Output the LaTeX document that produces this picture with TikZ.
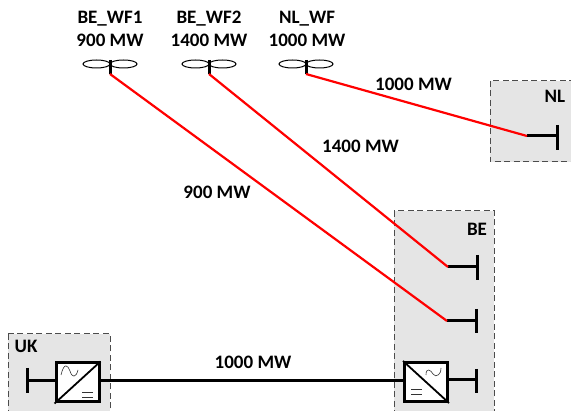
\documentclass[tikz,border=0pt]{standalone}
\usepackage{fontspec}
\setmainfont{Carlito}
\usetikzlibrary{positioning,calc}
\tikzset{
  zone/.style={draw=black!70,dash pattern=on 6pt off 3.5pt,fill=black!10,line width=1pt},
  label/.style={font=\bfseries\fontsize{19}{22.5}\selectfont,inner sep=0pt,align=center},
  feeder/.style={draw=red,line width=2.2pt},
  link/.style={draw=black,line width=3pt},
  busbar/.style={draw=black,line width=3pt},
  conv/.style={draw=black,fill=white,line width=3pt,minimum width=43pt,minimum height=39pt,inner sep=0pt},
  blade/.style={draw=black,line width=1pt},
}
\begin{document}
\begin{tikzpicture}[x=1pt,y=-1pt]
  \clip (0,0) rectangle (571,411);
  \draw[zone] (490,81) rectangle (575,162); % NL
  \draw[zone] (394,211) rectangle (494,420); % BE
  \draw[zone] (8,334) rectangle (110,420); % UK
  \node[label] (nameNL) at (555,96) {NL};
  \node[label] (nameBE) at (477,229) {BE};
  \node[label] (nameUK) at (26,346) {UK};
  % wind farms
  \foreach \name/\xx in {wfA/110,wfB/209,wfC/306}{
    \draw[blade] (\xx-13.5,64) ellipse (13.5 and 4);
    \draw[blade] (\xx+13.5,64) ellipse (13.5 and 4);
    \coordinate (\name) at (\xx,74);
    \draw[busbar] (\xx,60) -- (\name);
  }
  \node[label] (textA) at (110,29) {BE\_WF1\\900 MW};
  \node[label] (textB) at (209,29) {BE\_WF2\\1400 MW};
  \node[label] (textC) at (307,29) {NL\_WF\\1000 MW};
  % busbars
  \coordinate (busNL) at (527,136);
  \coordinate (busNLend) at (557,136);
  \coordinate (busA) at (448,267);
  \coordinate (busAend) at (477,267);
  \coordinate (busB) at (447,321);
  \coordinate (busBend) at (476,321);
  \draw[busbar] (busNL) -- (busNLend);
  \draw[busbar] (557,125) -- (557,150);
  \draw[busbar] (busA) -- (busAend);
  \draw[busbar] (477,255) -- (477,280);
  \draw[busbar] (busB) -- (busBend);
  \draw[busbar] (476,309) -- (476,333);
  % feeders
  \draw[feeder] (wfA) -- (busB);
  \draw[feeder] (wfB) -- (busA);
  \draw[feeder] (wfC) -- (busNL);
  \node[label] (powerA) at (217,192) {900 MW};
  \node[label] (powerB) at (360.5,146) {1400 MW};
  \node[label] (powerC) at (413.5,84) {1000 MW};
  % converters
  \node[conv] (convUK) at (77.5,382.5) {};
  \node[conv] (convBE) at (426,382) {};
  \draw[line width=1.8pt] (convUK.south west) -- (convUK.north east);
  \draw[line width=1.8pt] (convBE.north west) -- (convBE.south east);
  \draw[black!80,line width=0.6pt] (61,375) .. controls (64,362) and (68,365) .. (70,371) .. controls (72,378) and (76,378) .. (78,370);
  \draw[black!80,line width=0.6pt] (82,392) -- (93,392) (82,397) -- (93,397);
  \draw[black!80,line width=0.6pt] (426,375) .. controls (426,367) and (431,370) .. (433,374) .. controls (436,379) and (442,373) .. (441,368);
  \draw[black!80,line width=0.6pt] (411,389) -- (422,389) (411,394) -- (422,394);
  % link
  \coordinate (busUK) at (27,381);
  \coordinate (busBEc) at (476,380);
  \draw[busbar] (busUK) -- (convUK.west |- busUK);
  \draw[busbar] (27,368) -- (27,393);
  \draw[busbar] (convBE.east |- busBEc) -- (busBEc);
  \draw[busbar] (476,369) -- (476,393);
  \draw[link] (convUK.east |- 0,381) -- (convBE.west |- 0,381);
  \node[label] (powerL) at (253,362) {1000 MW};
\end{tikzpicture}
\end{document}
